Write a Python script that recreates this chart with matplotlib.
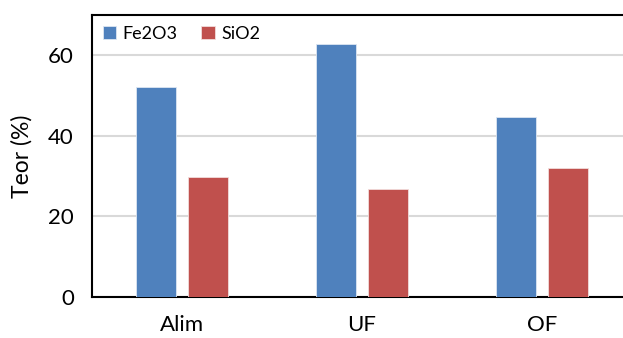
import numpy as np
import matplotlib.pyplot as plt

plt.rcParams['font.family'] = ['Lato', 'DejaVu Sans']

# teor por produto
categorias = ['Alim', 'UF', 'OF']
fe2o3 = [52.2, 62.7, 44.6]
sio2 = [29.8, 26.7, 32.0]

x = np.arange(len(categorias))
w = 0.222
off = 0.142

fig = plt.figure(figsize=(6.23, 3.38), dpi=100)
ax = fig.add_axes([92 / 623, 41 / 338, 540 / 623, 282 / 338])

ax.bar(x - off, fe2o3, w, color='#4F81BD', edgecolor='#dce6f2', linewidth=0.6,
       label='Fe2O3', zorder=3)
ax.bar(x + off, sio2, w, color='#C0504D', edgecolor='#f2dcdb', linewidth=0.6,
       label='SiO2', zorder=3)

ax.set_xlim(-0.5, 2.5)
ax.set_ylim(0, 70)
ax.set_yticks([0, 20, 40, 60])
ax.set_xticks(x)
ax.set_xticklabels(categorias)
ax.tick_params(axis='both', length=0, labelsize=16)
ax.tick_params(axis='x', pad=13)
ax.tick_params(axis='y', pad=13)
ax.yaxis.grid(True, color='#d9d9d9', linewidth=1.5, zorder=0)
ax.set_axisbelow(True)

ax.set_ylabel('Teor (%)', fontsize=16.5, labelpad=11)

for s in ['left', 'bottom', 'top']:
    ax.spines[s].set_linewidth(1.5)
    ax.spines[s].set_color('black')
ax.spines['right'].set_visible(False)

ax.legend(loc='upper left', ncol=2, frameon=False, fontsize=13,
          handlelength=0.75, handleheight=0.75, handletextpad=0.35,
          columnspacing=1.3, borderaxespad=0.15, borderpad=0.45,
          bbox_to_anchor=(0.0, 1.0))

fig.savefig('out.png', dpi=100)
